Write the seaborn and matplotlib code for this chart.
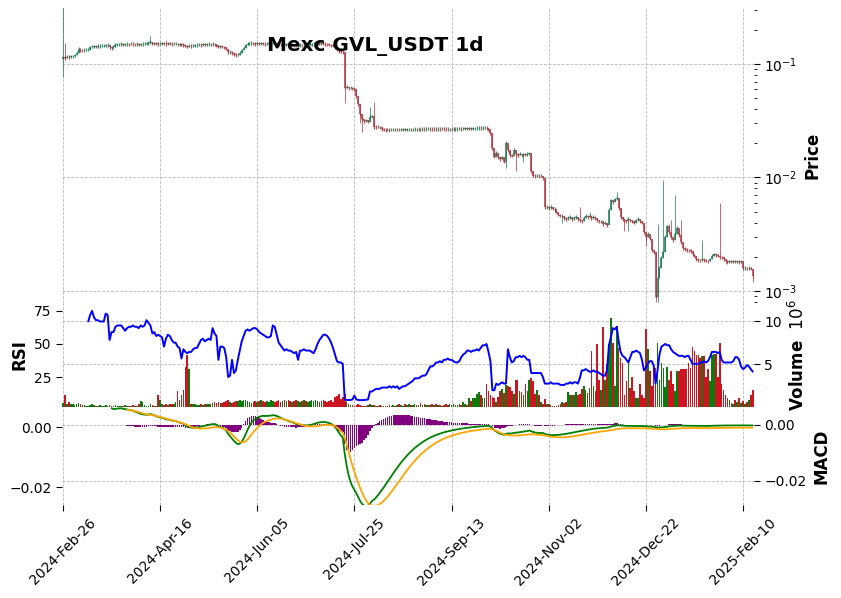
import numpy as np
import pandas as pd
import matplotlib
matplotlib.use('Agg')
import matplotlib.pyplot as plt
import matplotlib.ticker as mticker
import seaborn as sns

sns.set_style('white')
plt.rcParams['font.family'] = ['DejaVu Sans']
plt.rcParams['text.color'] = 'black'
plt.rcParams['axes.labelcolor'] = 'black'
plt.rcParams['xtick.color'] = 'black'
plt.rcParams['ytick.color'] = 'black'

# daily candles, GVL/USDT on Mexc (prices in USDT, volume in millions)
first_day = '2024-02-26'
first_open = 0.110
closes = [
    0.114, 0.113, 0.116, 0.115, 0.117, 0.117, 0.119, 0.126, 0.135, 0.133,
    0.132, 0.133, 0.134, 0.134, 0.140, 0.142, 0.143, 0.142, 0.144, 0.144,
    0.145, 0.145, 0.146, 0.147, 0.140, 0.138, 0.142, 0.147, 0.149, 0.149,
    0.150, 0.148, 0.149, 0.150, 0.149, 0.151, 0.150, 0.149, 0.150, 0.148,
    0.149, 0.150, 0.151, 0.152, 0.153, 0.156, 0.152, 0.151, 0.152, 0.150,
    0.151, 0.152, 0.151, 0.149, 0.152, 0.151, 0.150, 0.151, 0.151, 0.149,
    0.148, 0.149, 0.147, 0.145, 0.142, 0.145, 0.144, 0.145, 0.146, 0.147,
    0.148, 0.147, 0.149, 0.148, 0.149, 0.150, 0.149, 0.150, 0.149, 0.146,
    0.142, 0.143, 0.142, 0.140, 0.136, 0.127, 0.127, 0.125, 0.122, 0.120,
    0.121, 0.126, 0.132, 0.139, 0.146, 0.151, 0.152, 0.153, 0.152, 0.150,
    0.152, 0.151, 0.152, 0.151, 0.150, 0.151, 0.152, 0.153, 0.154, 0.153,
    0.151, 0.150, 0.149, 0.149, 0.148, 0.149, 0.148, 0.147, 0.148, 0.146,
    0.145, 0.146, 0.147, 0.146, 0.147, 0.146, 0.147, 0.148, 0.149, 0.150,
    0.151, 0.152, 0.151, 0.152, 0.151, 0.150, 0.149, 0.148, 0.146, 0.145,
    0.140, 0.134, 0.130, 0.128, 0.127, 0.062, 0.063, 0.061, 0.062, 0.061,
    0.060, 0.052, 0.044, 0.036, 0.033, 0.0315, 0.0318, 0.031, 0.034, 0.0345,
    0.0279, 0.0278, 0.0280, 0.0276, 0.0265, 0.0263, 0.0262, 0.0263, 0.0262, 0.0263,
    0.0264, 0.0263, 0.0264, 0.0263, 0.0264, 0.0265, 0.0264, 0.0265, 0.0266, 0.0265,
    0.0266, 0.0267, 0.0266, 0.0267, 0.0266, 0.0268, 0.0267, 0.0268, 0.0269, 0.0268,
    0.0267, 0.0268, 0.0267, 0.0268, 0.0267, 0.0269, 0.0268, 0.0267, 0.0268, 0.0266,
    0.0267, 0.0268, 0.0267, 0.0268, 0.0269, 0.0268, 0.0269, 0.0270, 0.0269, 0.0270,
    0.0269, 0.0270, 0.0271, 0.0272, 0.0273, 0.0272, 0.0273, 0.0274, 0.0272, 0.0266,
    0.0245, 0.0182, 0.0153, 0.0164, 0.0150, 0.0146, 0.0150, 0.0138, 0.0201, 0.0175,
    0.0158, 0.0156, 0.0175, 0.0160, 0.0158, 0.0162, 0.0157, 0.0160, 0.0159, 0.0161,
    0.0163, 0.0113, 0.0104, 0.0103, 0.0104, 0.0103, 0.0104, 0.0098, 0.0055, 0.0055,
    0.0054, 0.0055, 0.0053, 0.0053, 0.0050, 0.0047, 0.0046, 0.0046, 0.0044, 0.0043,
    0.0044, 0.0045, 0.0043, 0.0044, 0.0045, 0.0043, 0.0042, 0.0041, 0.0044, 0.0046,
    0.0045, 0.0046, 0.0044, 0.0045, 0.0044, 0.0042, 0.0041, 0.0041, 0.0039, 0.0040,
    0.0038, 0.0052, 0.0063, 0.0061, 0.0064, 0.0066, 0.0054, 0.0045, 0.0043, 0.0042,
    0.0041, 0.0043, 0.0042, 0.0041, 0.0040, 0.0042, 0.0043, 0.0041, 0.0040, 0.0033,
    0.0030, 0.0032, 0.0029, 0.0023, 0.0022, 0.00089, 0.0013, 0.0016, 0.00195, 0.0022,
    0.0030, 0.0037, 0.0033, 0.0030, 0.0028, 0.0032, 0.0036, 0.0031, 0.0027, 0.0024,
    0.00235, 0.0023, 0.00228, 0.00225, 0.0021, 0.00205, 0.0019, 0.00188, 0.00186, 0.0019,
    0.00188, 0.00185, 0.00183, 0.0019, 0.00205, 0.0021, 0.00208, 0.00205, 0.0020, 0.00198,
    0.0019, 0.00182, 0.0018, 0.00182, 0.00181, 0.00182, 0.00181, 0.00182, 0.0018, 0.00182,
    0.0016, 0.0016, 0.00158, 0.0016, 0.00157, 0.00135,
]
volumes = [
    0.5, 1.4, 0.4, 0.6, 0.3, 0.4, 0.2, 0.3, 0.5, 0.3,
    0.2, 0.2, 0.1, 0.1, 0.2, 0.3, 0.2, 0.1, 0.1, 0.2,
    0.1, 0.1, 0.2, 0.1, 0.2, 0.1, 0.1, 0.2, 0.1, 0.1,
    0.1, 0.1, 0.2, 0.1, 0.1, 0.1, 0.2, 0.1, 0.1, 0.3,
    0.7, 0.6, 0.2, 0.1, 0.1, 0.3, 0.2, 0.1, 0.1, 1.4,
    0.8, 0.3, 0.2, 0.3, 0.2, 0.3, 0.4, 0.3, 0.6, 1.9,
    0.8, 1.4, 2.0, 4.6, 6.1, 4.4, 0.4, 0.3, 0.3, 0.2,
    0.2, 0.3, 0.2, 0.3, 0.4, 0.3, 0.4, 0.5, 0.6, 0.5,
    0.6, 0.5, 0.5, 0.6, 0.7, 0.8, 0.6, 0.5, 0.6, 0.7,
    0.7, 0.8, 0.7, 0.8, 0.8, 0.7, 0.6, 0.5, 0.6, 0.7,
    0.6, 0.7, 0.8, 0.7, 0.6, 0.7, 0.6, 0.8, 0.7, 0.6,
    0.7, 0.8, 0.6, 0.7, 0.8, 0.7, 0.8, 0.7, 0.6, 0.7,
    0.8, 0.7, 0.6, 0.7, 0.8, 0.7, 0.6, 0.7, 0.8, 0.7,
    0.8, 0.7, 0.6, 0.7, 0.8, 0.7, 0.6, 0.7, 0.8, 0.6,
    1.2, 1.3, 1.5, 0.9, 1.2, 1.5, 0.6, 0.3, 0.2, 0.2,
    0.1, 0.2, 0.3, 0.2, 0.1, 0.1, 0.1, 0.2, 0.3, 0.2,
    0.2, 0.1, 0.1, 0.2, 0.1, 0.1, 0.1, 0.1, 0.2, 0.1,
    0.2, 0.1, 0.2, 0.3, 0.2, 0.1, 0.3, 0.2, 0.3, 0.2,
    0.2, 0.3, 0.2, 0.2, 0.5, 0.2, 0.3, 0.2, 0.2, 0.2,
    0.3, 0.2, 0.4, 0.2, 0.2, 0.1, 0.2, 0.3, 0.2, 0.4,
    0.2, 0.3, 0.2, 0.2, 0.3, 0.2, 0.6, 0.3, 0.2, 1.0,
    0.7, 1.0, 1.1, 1.5, 1.8, 1.4, 1.1, 1.0, 2.7, 1.9,
    1.4, 1.2, 1.0, 0.6, 1.2, 1.9, 2.1, 1.6, 2.6, 2.4,
    2.3, 1.9, 1.5, 3.1, 3.1, 1.9, 1.8, 1.4, 2.7, 1.9,
    3.1, 3.4, 3.0, 1.5, 2.0, 1.4, 0.6, 0.4, 0.9, 0.3,
    0.3, 0.2, 0.1, 0.1, 0.1, 0.2, 0.3, 0.6, 0.5, 0.6,
    1.8, 1.4, 1.4, 1.4, 1.8, 1.4, 1.5, 2.1, 2.4, 2.0,
    1.6, 2.2, 6.5, 2.4, 1.9, 7.3, 3.1, 2.0, 9.3, 3.1,
    5.0, 7.3, 10.3, 7.4, 2.5, 9.4, 6.9, 5.7, 5.1, 1.4,
    3.0, 5.5, 2.2, 3.5, 1.9, 1.0, 1.0, 2.7, 1.4, 1.0,
    9.1, 6.7, 4.2, 2.5, 4.5, 4.5, 7.5, 3.1, 5.1, 4.5,
    2.3, 4.6, 3.1, 4.2, 2.7, 1.9, 4.2, 4.2, 4.4, 4.4,
    4.4, 4.4, 5.1, 4.5, 7.0, 6.5, 6.0, 6.1, 5.7, 5.9,
    5.9, 3.5, 4.4, 3.0, 6.0, 6.2, 6.2, 3.5, 7.4, 2.7,
    2.0, 1.4, 1.0, 0.8, 0.5, 0.4, 0.8, 0.6, 1.0, 0.5,
    0.7, 0.4, 0.6, 0.8, 1.4, 2.0,
]
# RSI(14), from day 13 on
rsi_start = 13
rsi_values = [
    67, 72, 75, 70, 68, 68, 67, 67, 67, 73,
    72, 53, 59, 59, 63, 64, 64, 64, 62, 60,
    62, 63, 63, 64, 63, 63, 62, 64, 63, 64,
    68, 66, 64, 58, 59, 56, 57, 56, 55, 48,
    54, 57, 56, 53, 51, 51, 48, 47, 39, 46,
    44, 43, 44, 44, 46, 47, 47, 50, 53, 54,
    52, 53, 54, 53, 62, 58, 56, 38, 48, 48,
    47, 40, 25, 26, 38, 28, 30, 38, 45, 52,
    56, 60, 61, 60, 61, 62, 62, 61, 59, 58,
    57, 56, 55, 55, 56, 64, 63, 57, 51, 49,
    47, 45, 46, 45, 45, 44, 43, 44, 38, 45,
    45, 46, 45, 45, 45, 44, 43, 46, 50, 53,
    55, 57, 57, 56, 54, 51, 47, 42, 37, 36,
    36, 35, 8, 7.6, 7.6, 7.6, 8, 11, 8, 7.6,
    7.5, 7.5, 7.6, 7.8, 8, 14, 14, 15, 16, 16,
    16, 17, 17, 17, 17, 18, 17, 18, 17, 18,
    16, 17, 18, 18, 19, 20, 21, 22, 24, 24,
    24, 25, 26, 26, 27, 30, 33, 33, 34, 36,
    36, 37, 36, 38, 38, 39, 38, 38, 37, 36,
    36, 37, 40, 42, 43, 45, 45, 44, 45, 45,
    46, 45, 47, 49, 49, 50, 44, 37, 15, 15,
    20, 19, 20, 21, 20, 20, 46, 40, 36, 37,
    40, 40, 41, 40, 41, 40, 38, 38, 28, 28,
    28, 28, 28, 28, 25, 20, 20, 20, 21, 20,
    20, 20, 20, 19, 19, 19, 20, 20, 21, 20,
    21, 21, 20, 24, 30, 30, 31, 30, 29, 29,
    30, 29, 29, 28, 27, 26, 26, 30, 49, 55,
    62, 61, 63, 52, 44, 41, 40, 38, 36, 40,
    44, 44, 45, 44, 43, 38, 30, 32, 35, 37,
    37, 34, 20, 30, 42, 48, 49, 50, 49, 49,
    46, 44, 43, 42, 41, 41, 41, 40, 41, 41,
    38, 35, 35, 35, 35, 36, 36, 37, 36, 37,
    40, 44, 44, 44, 43, 44, 38, 36, 36, 36,
    36, 36, 37, 40, 40, 38, 33, 31, 32, 34,
    33, 31, 29,
]
# long wicks (day index -> price)
wick_highs = {0: 0.32, 1: 0.153, 45: 0.176, 53: 0.163, 158: 0.0418, 160: 0.046,
              228: 0.0205, 266: 0.0055, 271: 0.0050, 285: 0.0075, 306: 0.0039,
              309: 0.0095, 312: 0.0039, 313: 0.0042, 315: 0.0070, 318: 0.0042,
              329: 0.0028, 338: 0.0060}
wick_lows = {0: 0.076, 1: 0.110, 145: 0.0455, 153: 0.0302, 154: 0.0252, 228: 0.0120,
             233: 0.0113, 237: 0.0138, 253: 0.0049, 257: 0.0040, 289: 0.0034,
             291: 0.0034, 300: 0.0025, 305: 0.0008, 306: 0.0008, 355: 0.0012}

dates = pd.date_range(first_day, periods=len(closes), freq='D')
df = pd.DataFrame({'close': closes, 'volume': volumes}, index=dates)
df['open'] = df['close'].shift(1).fillna(first_open)
df['high'] = df[['open', 'close']].max(axis=1)
df['low'] = df[['open', 'close']].min(axis=1)
for k, v in wick_highs.items():
    df.iloc[k, df.columns.get_loc('high')] = v
for k, v in wick_lows.items():
    df.iloc[k, df.columns.get_loc('low')] = v
df['rsi'] = np.nan
df.iloc[rsi_start:rsi_start + len(rsi_values), df.columns.get_loc('rsi')] = rsi_values

# macd 12/26/9
ema12 = df['close'].ewm(span=12, min_periods=12, adjust=False).mean()
ema26 = df['close'].ewm(span=26, min_periods=26, adjust=False).mean()
df['macd'] = ema12 - ema26
df['signal'] = df['macd'].ewm(span=9, min_periods=9, adjust=False).mean()
df['hist'] = df['macd'] - df['signal']

idx = np.arange(len(df))
up = (df['close'] >= df['open']).values
candle_col = np.where(up, '#1e7b56', '#b0343c')
vol_col = np.where(up, '#0d7a0d', '#cc1520')

W, H = 841, 598
def box(l, t, r, b):
    return [l / W, 1 - b / H, (r - l) / W, (b - t) / H]

fig = plt.figure(figsize=(W / 100, H / 100), dpi=100)
ax_p = fig.add_axes(box(61.8, 8, 753.9, 303))
ax_v = fig.add_axes(box(61.8, 303, 753.9, 407), sharex=ax_p)
ax_m = fig.add_axes(box(61.8, 407, 753.9, 505), sharex=ax_p)
ax_r = ax_v.twinx()
ax_s = ax_m.twinx()

# candles
body_lo = df[['open', 'close']].min(axis=1)
body_hi = df[['open', 'close']].max(axis=1)
ax_p.vlines(idx, df['low'], df['high'], colors=candle_col, linewidth=0.6, alpha=0.85)
ax_p.vlines(idx, body_lo, body_hi, colors=candle_col, linewidth=1.25, alpha=0.9)
ax_p.scatter(idx, df['close'], marker='|', s=6, c=candle_col, linewidths=0.9, alpha=0.85)
ax_p.set_yscale('log')
ax_p.set_ylim(0.000784, 0.311)

# volume + rsi
ax_v.bar(idx, df['volume'], width=0.85, color=vol_col, linewidth=0)
ax_v.set_ylim(0, 12.1)
ax_v.set_yticks([5, 10])
sns.lineplot(x=idx, y=df['rsi'].values, ax=ax_r, color='blue', linewidth=1.4)
ax_r.set_ylim(2.3, 81)
ax_r.set_yticks([25, 50, 75])

# macd: line + histogram on the right axis, signal on the left axis
ax_m.bar(idx, df['hist'], width=0.8, color='purple', linewidth=0)
sns.lineplot(x=idx, y=df['macd'].values, ax=ax_m, color='green', linewidth=1.3)
sns.lineplot(x=idx, y=df['signal'].values, ax=ax_s, color='orange', linewidth=1.3)
ax_m.set_ylim(-0.0286, 0.0064)
ax_s.set_ylim(-0.0260, 0.0067)
fmt = mticker.FuncFormatter(lambda v, p: f'{v:.2f}'.replace('-', '\u2212'))
for ax in (ax_m, ax_s):
    ax.set_yticks([-0.02, 0.0])
    ax.yaxis.set_major_formatter(fmt)

ax_p.set_xlim(-0.6, len(df) - 0.4)
ticks = idx[::50]
ax_m.set_xticks(ticks)
ax_m.set_xticklabels([d.strftime('%Y-%b-%d') for d in dates[ticks]], rotation=45, ha='center')

grid_kw = dict(linestyle='--', color='#b8b8b8', linewidth=0.6)
for ax in (ax_p, ax_v, ax_m, ax_r, ax_s):
    for s in ax.spines.values():
        s.set_visible(False)
    ax.set_xlabel('')
for ax in (ax_p, ax_v, ax_m):
    ax.grid(True, which='major', **grid_kw)
    ax.yaxis.tick_right()
    ax.yaxis.set_label_position('right')
    ax.tick_params(axis='y', which='both', direction='out', labelsize=10,
                   left=False, right=True, color='black')
    ax.tick_params(axis='y', which='major', length=4)
for ax in (ax_r, ax_s):
    ax.grid(False)
    ax.yaxis.tick_left()
    ax.yaxis.set_label_position('left')
    ax.tick_params(axis='y', direction='out', labelsize=10, left=True, right=False,
                   length=4, color='black')
ax_s.set_ylabel('')
ax_p.yaxis.set_minor_formatter(mticker.NullFormatter())
ax_p.tick_params(axis='y', which='minor', length=2.5)
for ax in (ax_p, ax_v):
    ax.tick_params(axis='x', bottom=False, labelbottom=False)
ax_m.tick_params(axis='x', bottom=True, length=4, color='black', labelsize=10)

ax_p.set_ylabel('Price', fontsize=12, fontweight='bold')
ax_v.set_ylabel('Volume  $10^{6}$', fontsize=12, fontweight='bold')
ax_r.set_ylabel('RSI', fontsize=12, fontweight='bold')
ax_m.set_ylabel('MACD', fontsize=12, fontweight='bold')

fig.text(375 / W, 1 - 46 / H, 'Mexc GVL_USDT 1d', ha='center', va='center',
         fontsize=14.4, fontweight='bold')

fig.savefig('out.png', dpi=100)
